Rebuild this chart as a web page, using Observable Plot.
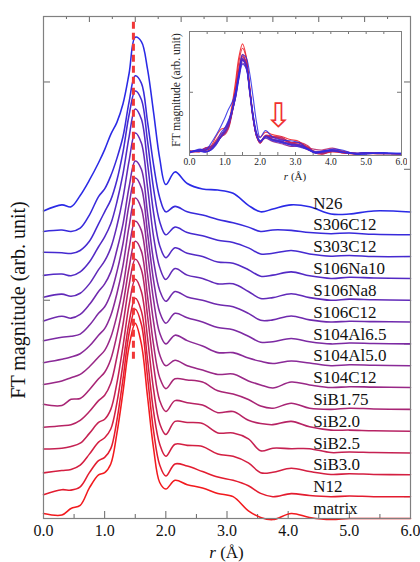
<!DOCTYPE html>
<html><head><meta charset="utf-8">
<script src="https://cdn.jsdelivr.net/npm/d3@7"></script>
<script src="https://cdn.jsdelivr.net/npm/@observablehq/plot@0.6"></script>
<style>
html,body{margin:0;padding:0;background:#fff;}
#wrap{position:relative;width:420px;height:562px;overflow:hidden;}
#main,#inset{position:absolute;}
#main{left:0;top:0;}
#inset{left:165px;top:20px;}
</style></head>
<body><div id="wrap"><div id="main"></div><div id="inset"></div></div>
<script>
// r grid (Å)
const r = [0,0.3,0.45,0.6,0.75,0.9,1.0,1.1,1.2,1.3,1.4,1.5,1.6,1.7,1.8,1.9,2.0,2.15,2.35,2.6,2.85,3.1,3.35,3.55,3.75,4.05,4.35,4.7,5.0,5.4,6.0];

// sample names, bottom (red) to top (blue)
const names = ["matrix","N12","SiB3.0","SiB2.5","SiB2.0","SiB1.75","S104C12","S104Al5.0","S104Al6.5","S106C12","S106Na8","S106Na10","S303C12","S306C12","N26"];

// FT magnitude (arb. unit) for each sample on the r grid
const fmMatrix   = [0.23,0.16,0.46,0.60,1.40,2.00,2.10,2.50,3.90,5.80,7.90,8.94,8.00,5.60,3.20,1.65,1.35,1.75,1.55,1.40,1.15,1.00,0.35,0.05,-0.05,0.23,0.05,-0.05,0.00,0.00,0.00];
const fmN12      = [0.09,0.32,0.30,0.45,1.10,1.65,1.80,2.20,3.50,5.40,7.50,8.59,7.90,5.50,3.00,1.45,0.95,1.50,1.40,1.15,0.90,0.75,0.50,0.15,0.00,0.14,0.05,0.00,0.03,0.00,0.00];
const fmSiB30    = [0.09,0.20,0.25,0.45,0.95,1.50,1.70,2.10,3.30,5.10,7.00,8.09,7.50,5.30,2.90,1.40,0.85,1.40,1.35,1.30,0.95,0.85,0.55,0.10,0.12,0.30,0.15,0.02,0.05,0.02,0.00];
const fmSiB25    = [0.18,0.22,0.30,0.45,0.90,1.40,1.55,2.00,3.20,4.90,6.80,7.96,7.40,5.30,2.90,1.35,0.85,1.45,1.40,1.35,0.92,0.92,0.65,0.10,0.22,0.20,0.20,0.02,0.05,0.02,0.00];
const fmSiB20    = [0.18,0.25,0.30,0.50,0.90,1.40,1.65,2.20,3.40,4.90,6.70,7.88,7.40,5.30,3.00,1.40,0.90,1.40,1.30,1.20,0.85,0.90,0.50,0.35,0.30,0.45,0.20,0.05,0.05,0.02,0.00];
const fmSiB175   = [0.23,0.18,0.46,0.50,0.90,1.40,1.70,2.30,3.40,4.80,6.50,7.70,7.25,5.20,2.95,1.45,0.95,1.40,1.35,1.25,0.85,0.70,0.45,0.15,0.05,0.28,0.05,0.00,0.05,0.02,0.00];
const fmS104C12  = [0.14,0.30,0.45,0.60,0.95,1.40,1.70,2.30,3.30,4.60,6.40,7.62,7.20,5.20,3.00,1.50,1.00,1.25,1.00,0.80,0.60,0.62,0.30,0.12,-0.02,0.25,0.12,0.00,0.04,0.02,0.00];
const fmS104Al50 = [0.14,0.30,0.40,0.55,0.90,1.40,1.70,2.30,3.30,4.60,6.40,7.68,7.20,5.20,3.00,1.50,1.00,1.40,1.15,0.90,0.60,0.60,0.35,0.20,0.10,0.22,0.12,0.00,0.04,0.02,0.00];
const fmS104Al65 = [0.14,0.30,0.35,0.45,0.85,1.40,1.70,2.30,3.30,4.60,6.40,7.60,7.15,5.10,2.90,1.45,0.95,1.40,1.20,1.00,0.75,0.65,0.35,0.08,0.10,0.25,0.10,0.00,0.04,0.02,0.00];
const fmS106C12  = [0.05,0.27,0.18,0.35,0.80,1.40,1.75,2.30,3.30,4.50,6.20,7.38,7.00,5.00,2.80,1.45,0.95,1.40,1.15,1.00,0.80,0.70,0.40,0.08,0.10,0.28,0.10,0.00,0.04,0.02,0.00];
const fmS106Na8  = [0.14,0.28,0.18,0.32,0.75,1.40,1.80,2.40,3.40,4.70,6.40,7.66,7.20,5.20,2.90,1.50,0.95,1.45,1.15,1.00,0.75,0.75,0.40,0.08,0.12,0.30,0.12,0.00,0.05,0.02,0.00];
const fmS106Na10 = [0.14,0.20,0.12,0.30,0.75,1.45,1.90,2.50,3.50,4.80,6.50,7.76,7.30,5.30,3.00,1.50,0.95,1.40,1.15,1.00,0.75,0.70,0.40,0.10,0.15,0.30,0.12,0.00,0.05,0.02,0.00];
const fmS303C12  = [0.20,0.18,0.14,0.28,0.70,1.50,2.05,2.60,3.50,4.80,6.50,7.59,7.20,5.30,3.10,1.60,1.00,1.35,1.10,0.95,0.75,0.65,0.40,0.12,0.15,0.28,0.12,0.02,0.05,0.00,0.00];
const fmS306C12  = [0.15,0.22,0.15,0.30,0.90,1.75,2.10,2.70,3.50,4.50,6.10,7.28,6.95,5.20,3.20,1.70,1.05,1.30,1.05,0.90,0.70,0.55,0.35,0.15,0.22,0.20,0.10,0.05,0.08,0.02,0.00];
const fmN26      = [0.09,0.37,0.28,0.80,1.50,2.30,2.90,3.60,4.15,5.00,6.40,8.05,7.85,6.60,4.60,2.50,1.30,1.88,1.35,1.10,1.05,0.90,0.35,0.05,0.18,0.37,0.28,-0.05,-0.05,0.09,0.04];

const seriesValues = [fmMatrix,fmN12,fmSiB30,fmSiB25,fmSiB20,fmSiB175,fmS104C12,fmS104Al50,fmS104Al65,fmS106C12,fmS106Na8,fmS106Na10,fmS303C12,fmS306C12,fmN26];

// vertical offset step between stacked spectra
const offsetStep = 1;

// dashed reference line at the first-shell peak
const peakR = [1.47];
const dashY1 = 7.3, dashY2 = 22.9;

// axis ticks
const xTickLabels = [0,1,2,3,4,5,6];
const xMajorTicks = [1,2,3,4,5];
const xMinorTicks = [0.5,1.5,2.5,3.5,4.5,5.5];
const topMajorTicks = [0.75,1.5,2.25,3,3.75,4.5,5.25];
const topMinorTicks = [0.375,1.125,1.875,2.625,3.375,4.125,4.875,5.625];
const leftTicks = [10,20];
const rightTicks = [1,8,12,16,20];
const insetTicks = [0.5,1,1.5,2,2.5,3,3.5,4,4.5,5,5.5];
const insetYTicks = [5];
const labelR = 4.41;
const arrowAt = [{r:2.52, v:3.05}];

const rows = [];
names.forEach((name,i)=>{
  seriesValues[i].forEach((v,j)=>rows.push({name, i, r:r[j], v, y:v + i*offsetStep}));
});

const colorStops = ["#f21a1e", "#8a2a98", "#2a2ae6"];
const ramp = d3.piecewise(d3.interpolateRgb, colorStops);
const colorRange = names.map((_,i)=>ramp(i/(names.length-1)));
const serif = "'Liberation Serif','Times New Roman',serif";

// ---------- main chart ----------
const W=420, H=562, mL=43, mR=10, mT=16, mB=44;
const fw = W-mL-mR, fh = H-mT-mB;
const main = Plot.plot({
  width:W, height:H, marginLeft:mL, marginRight:mR, marginTop:mT, marginBottom:mB,
  style:{fontFamily:serif, fontSize:"16px", background:"transparent", color:"#111"},
  x:{domain:[0,6]},
  y:{domain:[0,23]},
  color:{domain:names, range:colorRange},
  marks:[
    Plot.ruleX(xMajorTicks,{x:d=>d, stroke:"#666", insetTop:fh-7}),
    Plot.ruleX(xMinorTicks,{x:d=>d, stroke:"#666", insetTop:fh-4}),
    Plot.ruleX(topMajorTicks,{x:d=>d, stroke:"#666", insetBottom:fh-6}),
    Plot.ruleX(topMinorTicks,{x:d=>d, stroke:"#666", insetBottom:fh-3}),
    Plot.ruleY(leftTicks,{y:d=>d, stroke:"#666", insetRight:fw-7}),
    Plot.ruleY(rightTicks,{y:d=>d, stroke:"#666", insetLeft:fw-6}),
    Plot.line(rows,{x:"r", y:"y", z:"name", stroke:"name", strokeWidth:1.55, curve:"catmull-rom"}),
    Plot.ruleX(peakR,{x:d=>d, y1:dashY1, y2:dashY2, stroke:"#f03838", strokeWidth:3, strokeDasharray:"7,4"}),
    Plot.text(names,{x:labelR, y:(d,i)=>i*offsetStep+0.45, text:d=>d, textAnchor:"start", fontSize:17, fill:"#111"}),
    Plot.frame({stroke:"#808080", strokeWidth:1.2}),
    Plot.axisX({ticks:xTickLabels, tickSize:0, tickPadding:6, tickFormat:d3.format(".1f"), label:null, fontSize:16}),
    Plot.axisY({ticks:[], label:null})
  ]
});
document.getElementById("main").appendChild(main);
{
  const svg = d3.select(main);
  const xs = main.scale("x");
  const t = svg.append("text").attr("x", xs.apply(3)).attr("y", 558)
    .attr("text-anchor","middle").style("font-size","17px").attr("fill","#111");
  t.append("tspan").attr("font-style","italic").text("r");
  t.append("tspan").text(" (Å)");
  svg.append("text").attr("transform","translate(25,300) rotate(-90)")
    .attr("text-anchor","middle").style("font-size","20px").attr("fill","#111")
    .text("FT magnitude (arb. unit)");
}

// ---------- inset ----------
const iW=242, iH=163, imL=24, imR=6, imT=11, imB=28;
const ifw = iW-imL-imR, ifh = iH-imT-imB;
const inset = Plot.plot({
  width:iW, height:iH, marginLeft:imL, marginRight:imR, marginTop:imT, marginBottom:imB,
  style:{fontFamily:serif, fontSize:"10px", background:"transparent", color:"#222"},
  x:{domain:[0,6]},
  y:{domain:[-0.15,9.95]},
  color:{domain:names, range:colorRange},
  marks:[
    Plot.frame({fill:"white", stroke:"#808080"}),
    Plot.ruleX(insetTicks,{x:d=>d, stroke:"#777", insetTop:ifh-3}),
    Plot.ruleX(insetTicks,{x:d=>d, stroke:"#777", insetBottom:ifh-3}),
    Plot.ruleY(insetYTicks,{y:d=>d, stroke:"#777", insetRight:ifw-4}),
    Plot.ruleY(insetYTicks,{y:d=>d, stroke:"#777", insetLeft:ifw-4}),
    Plot.line(rows,{x:"r", y:"v", z:"name", stroke:"name", strokeWidth:1.1, strokeOpacity:0.85, curve:"catmull-rom"}),
    Plot.text(arrowAt,{x:"r", y:"v", text:()=>"⇩", fill:"#f03030", fontSize:34, fontFamily:"DejaVu Sans"}),
    Plot.frame({stroke:"#808080"}),
    Plot.axisX({ticks:xTickLabels, tickSize:0, tickPadding:3, tickFormat:d3.format(".1f"), label:null, fontSize:9.5}),
    Plot.axisY({ticks:[], label:null})
  ]
});
document.getElementById("inset").appendChild(inset);
{
  const svg = d3.select(inset);
  const xs = inset.scale("x");
  const t = svg.append("text").attr("x", xs.apply(3)).attr("y", 160)
    .attr("text-anchor","middle").style("font-size","11px").attr("fill","#222");
  t.append("tspan").attr("font-style","italic").text("r");
  t.append("tspan").text(" (Å)");
  svg.append("text").attr("transform","translate(15,70) rotate(-90)")
    .attr("text-anchor","middle").style("font-size","11.5px").attr("fill","#222")
    .text("FT magnitude (arb. unit)");
}
</script>
</body></html>
